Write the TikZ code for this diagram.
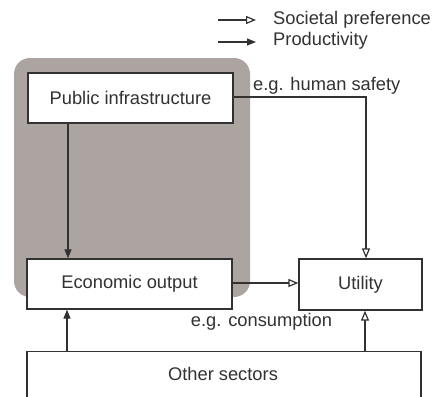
\documentclass[tikz,border=0pt]{standalone}
\usepackage{fontspec}
\setmainfont{Liberation Sans}
\usetikzlibrary{arrows.meta}
\definecolor{bggray}{RGB}{172,164,160}
\definecolor{ink}{RGB}{50,50,50}
\begin{document}
\begin{tikzpicture}[x=1pt,y=-1pt,
  box/.style={draw=ink,line width=1.3pt,fill=white,inner sep=0pt,font=\fontsize{18.3}{21}\selectfont,text=ink},
  lbl/.style={font=\fontsize{18.3}{21}\selectfont,text=ink,inner sep=0pt},
  prod/.style={draw=ink,line width=1.2pt,-{Triangle[length=9pt,width=7pt]}},
  soc/.style={draw=ink,line width=1.2pt,-{Triangle[open,length=10pt,width=8pt,line width=1.2pt]}}]
\useasboundingbox (0,0) rectangle (433,396);
\clip (0,0) rectangle (433,396);
\fill[white] (0,0) rectangle (433,396);
\fill[bggray,rounded corners=16pt] (14,58) rectangle (250,297);
\node[box,minimum width=205pt,minimum height=50pt] (pi) at (130.5,98) {Public infrastructure};
\node[box,minimum width=205pt,minimum height=50pt] (eo) at (129.5,284) {Economic output};
\node[box,minimum width=123pt,minimum height=51pt] (ut) at (360.5,284.5) {Utility};
\node[box,minimum width=394pt,minimum height=60pt,anchor=north] (os) at (224,351) {};
\node[lbl] (ostext) at (223,374) {Other sectors};
\coordinate (corner) at (366,97);
\draw[soc] (pi.east |- 0,97) -- (corner) -- (ut.north -| corner);
\node[lbl,anchor=base west] (hs) at (253,90) {e.g. human safety};
\draw[prod] (pi.south -| 68,0) -- (eo.north -| 68,0);
\draw[soc] (eo.east |- 0,283) -- (ut.west |- 0,283);
\node[lbl] (cons) at (261.5,322) {e.g. consumption};
\draw[prod] (os.north -| 67,0) -- (eo.south -| 67,0);
\draw[soc] (os.north -| 365,0) -- (ut.south -| 365,0);
% legend
\coordinate (l1a) at (218,20); \coordinate (l1b) at (256,20);
\coordinate (l2a) at (218,42); \coordinate (l2b) at (256,42);
\draw[soc] (l1a) -- (l1b);
\draw[prod] (l2a) -- (l2b);
\node[lbl,anchor=west] (lsoc) at (273,20) {Societal preference};
\node[lbl,anchor=west] (lprod) at (273,41) {Productivity};
\end{tikzpicture}
\end{document}
